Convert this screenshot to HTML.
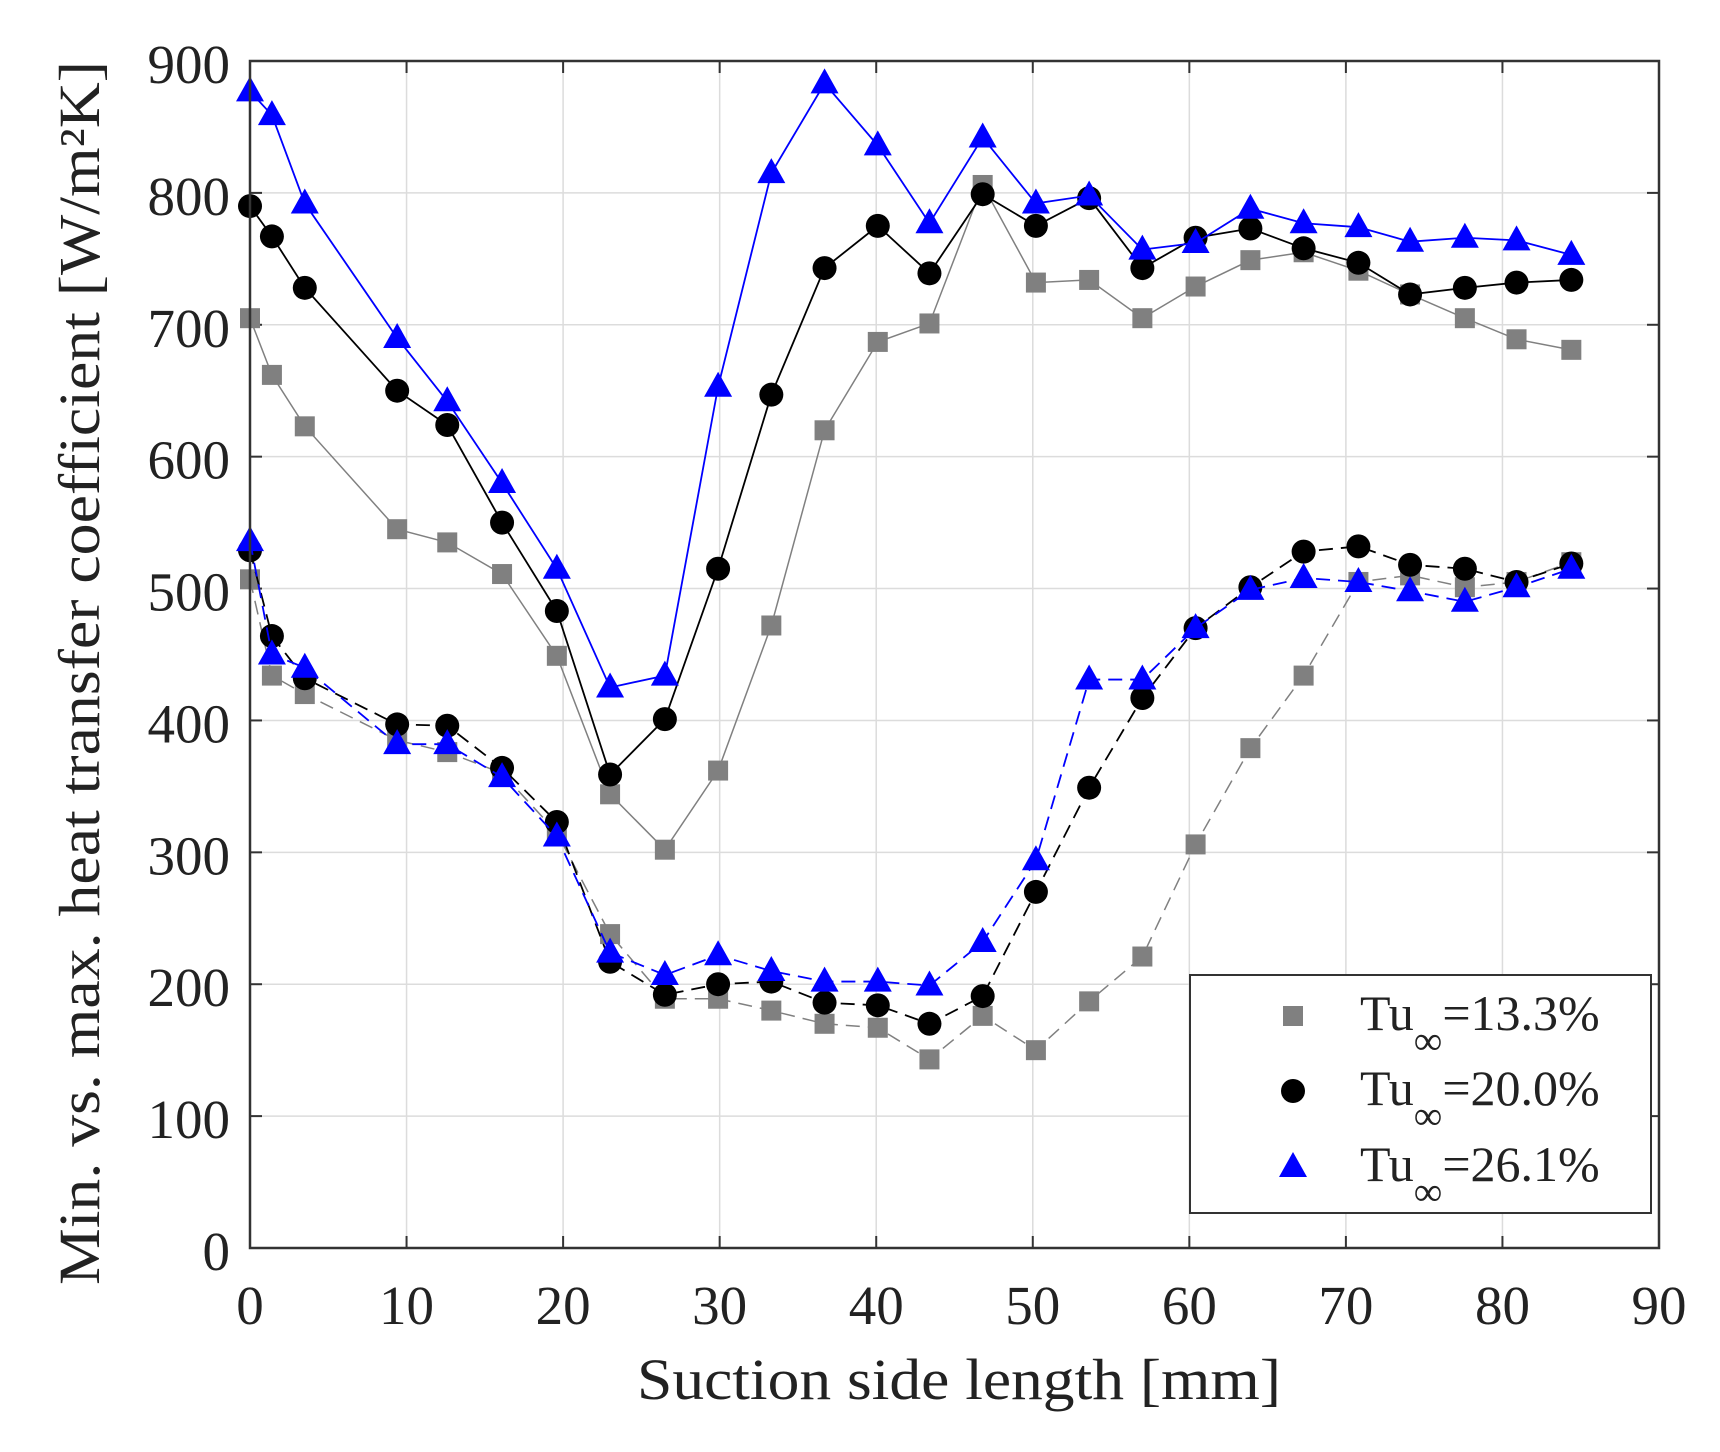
<!DOCTYPE html>
<html><head><meta charset="utf-8"><style>
html,body{margin:0;padding:0;background:#fff;}
svg{display:block;font-family:"Liberation Serif","DejaVu Serif",serif;}
</style></head><body>
<svg id="chart" width="1720" height="1452" viewBox="0 0 1720 1452" xmlns="http://www.w3.org/2000/svg"></svg>
<script>
const xs = [0,1.4,3.5,9.4,12.6,16.1,19.6,23,26.5,29.9,33.3,36.7,40.1,43.4,46.8,50.2,53.6,57,60.4,63.9,67.3,70.8,74.1,77.6,80.9,84.4];
const grayMax = [705,662,623,545,535,511,449,344,302,362,472,620,687,701,806,732,734,705,729,749,755,741,723,705,689,681];
const blackMax = [790,767,728,650,624,550,483,359,401,515,647,743,775,739,799,775,796,743,766,773,758,747,723,728,732,734];
const blueMax = [877,859,792,690,642,580,515,425,434,653,815,883,836,777,842,792,798,757,762,788,777,774,763,766,764,753];
const grayMin = [507,434,420,385,376,360,315,238,189,189,180,170,167,143,176,150,187,221,306,379,434,505,510,501,505,520];
const blackMin = [529,464,432,397,396,364,323,217,192,200,202,186,184,170,191,270,349,417,470,501,528,532,518,515,505,519];
const blueMin = [536,450,440,382,382,357,312,224,207,222,210,202,202,199,232,294,431,431,470,499,508,505,498,490,501,515];
const xTicks = [0,10,20,30,40,50,60,70,80,90];
const yTicks = [0,100,200,300,400,500,600,700,800,900];
const legendLabels = ["=13.3%","=20.0%","=26.1%"];

const L=250,R=1659,T=61,B=1248;
const sx=v=>L+(v-0)/90*(R-L);
const sy=v=>B-(v-0)/900*(B-T);
const NS="http://www.w3.org/2000/svg";
const svg=document.getElementById('chart');
function mk(tag,attrs,parent){const e=document.createElementNS(NS,tag);for(const k in attrs)e.setAttribute(k,attrs[k]);(parent||svg).appendChild(e);return e;}

xTicks.forEach(t=>{
  const g=mk('line',{x1:sx(t),x2:sx(t),y1:T,y2:B,stroke:'#dcdcdc','stroke-width':1.5});
  
  
  const a=mk('line',{x1:sx(t),x2:sx(t),y1:B,y2:B-12,stroke:'#333','stroke-width':2});
  
  
  const b=mk('line',{x1:sx(t),x2:sx(t),y1:T,y2:T+12,stroke:'#333','stroke-width':2});
  
  
  const tx=mk('text',{x:sx(t),y:1324,'text-anchor':'middle','font-size':55,fill:'#222'});
  tx.textContent=t;
  
  
});
yTicks.forEach(t=>{
  const g=mk('line',{x1:L,x2:R,y1:sy(t),y2:sy(t),stroke:'#dcdcdc','stroke-width':1.5});
  
  
  const a=mk('line',{x1:L,x2:L+12,y1:sy(t),y2:sy(t),stroke:'#333','stroke-width':2});
  
  
  const b=mk('line',{x1:R,x2:R-12,y1:sy(t),y2:sy(t),stroke:'#333','stroke-width':2});
  
  
  const tx=mk('text',{x:230,y:sy(t)+22,'text-anchor':'end','font-size':55,fill:'#222'});
  tx.textContent=t;
  
  
});

function marker(type,x,y,color,parent){
  let e;
  if(type==='sq') e=mk('rect',{x:x-10,y:y-10,width:20,height:20,fill:color},parent);
  else if(type==='ci') e=mk('circle',{cx:x,cy:y,r:12,fill:color},parent);
  else e=mk('polygon',{points:`${x},${y-15} ${x+14},${y+10} ${x-14},${y+10}`,fill:color},parent);
  return e;
}
function series(vals,color,lw,dash,type,name){
  const g=mk('g',{});
  
  
  const pts=vals.map((v,i)=>sx(xs[i])+','+sy(v)).join(' ');
  const pl=mk('polyline',{points:pts,fill:'none',stroke:color,'stroke-width':lw,'stroke-dasharray':dash||'none'},g);
  
  
  vals.forEach((v,i)=>{
    const m=marker(type,sx(xs[i]),sy(v),color,g);
    
    
  });
}
series(grayMin,'#808080',1.5,'14,8','sq','gray-min-series');
series(blackMin,'#000',1.8,'14,8','ci','black-min-series');
series(blueMin,'#0000ff',1.8,'14,8','tr','blue-min-series');
series(grayMax,'#808080',1.5,null,'sq','gray-max-series');
series(blackMax,'#000',1.8,null,'ci','black-max-series');
series(blueMax,'#0000ff',1.8,null,'tr','blue-max-series');

const fr=mk('rect',{x:L,y:T,width:R-L,height:B-T,fill:'none',stroke:'#333','stroke-width':2.5});



const xt=mk('text',{x:959,y:1399,'text-anchor':'middle','font-size':58,fill:'#222',textLength:644,lengthAdjust:'spacingAndGlyphs'});
xt.textContent='Suction side length [mm]';


const yt=mk('text',{x:0,y:0,'text-anchor':'middle','font-size':58,fill:'#222',textLength:1224,lengthAdjust:'spacingAndGlyphs',transform:'translate(99,673) rotate(-90)'});
yt.textContent='Min. vs. max. heat transfer coefficient [W/m²K]';



const lg=mk('g',{});


const lb=mk('rect',{x:1190,y:975,width:461,height:238,fill:'#fff',stroke:'#333','stroke-width':2},lg);


const ltypes=['sq','ci','tr'],lcols=['#808080','#000','#0000ff'],lys=[1016,1091,1167];
legendLabels.forEach((lab,i)=>{
  const m=marker(ltypes[i],1293,lys[i],lcols[i],lg);
  
  
  const t=mk('text',{x:1360,y:lys[i]+14,'font-size':50,fill:'#222'},lg);
  t.innerHTML='Tu<tspan dy="24" font-size="40">∞</tspan><tspan dy="-24">'+lab+'</tspan>';
  
  
});
</script>
</body></html>
